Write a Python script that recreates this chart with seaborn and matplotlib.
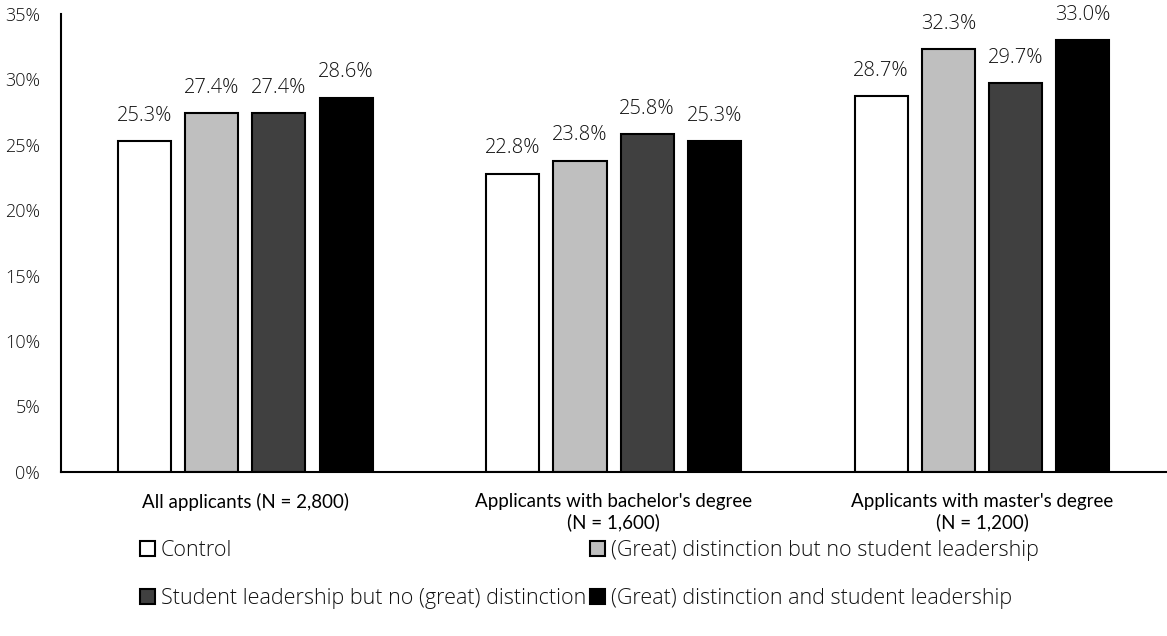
import numpy as np
import pandas as pd
import matplotlib
matplotlib.use('Agg')
import matplotlib.pyplot as plt
import seaborn as sns
from matplotlib.patches import Patch

groups = ['All applicants (N = 2,800)',
          "Applicants with bachelor's degree\n(N = 1,600)",
          "Applicants with master's degree\n(N = 1,200)"]
series = ['Control',
          '(Great) distinction but no student leadership',
          'Student leadership but no (great) distinction',
          '(Great) distinction and student leadership']
control = [25.3, 22.8, 28.7]
distinction_only = [27.4, 23.8, 32.3]
leadership_only = [27.4, 25.8, 29.7]
both = [28.6, 25.3, 33.0]
colors = ['#ffffff', '#bfbfbf', '#404040', '#000000']

df = pd.DataFrame({
    'group': groups * 4,
    'condition': [s for s in series for _ in groups],
    'value': control + distinction_only + leadership_only + both,
})

sns.set_style('white')
plt.rcParams['font.family'] = ['Open Sans', 'DejaVu Sans']
plt.rcParams['font.weight'] = 'light'

fig = plt.figure(figsize=(11.67, 6.36), dpi=100)
ax = fig.add_axes([0.0523, 0.258, 0.947, 0.72])

sns.barplot(data=df, x='group', y='value', hue='condition',
            hue_order=series, palette=colors, width=0.73, gap=0.21,
            edgecolor='black', linewidth=1.5, legend=False, ax=ax)

# value labels above bars
for cont in ax.containers:
    ax.bar_label(cont, labels=[f'{v:.1f}%' for v in cont.datavalues],
                 padding=11, fontsize=14.5, color='#111111')

ax.set_ylim(0, 35)
ax.set_xlim(-0.5, 2.5)
ax.set_yticks(np.arange(0, 36, 5))
ax.set_yticklabels([f'{t}%' for t in range(0, 36, 5)], fontsize=13, color='#111111')
ax.tick_params(axis='y', length=0, pad=15)
ax.tick_params(axis='x', length=0, pad=15)
for lab in ax.get_xticklabels():
    lab.set_fontfamily(['Lato', 'DejaVu Sans'])
    lab.set_fontweight('normal')
    lab.set_fontsize(13.5)
    lab.set_linespacing(1.25)
    lab.set_color('black')
ax.set_xlabel('')
ax.set_ylabel('')
sns.despine(ax=ax)
for sp in ['left', 'bottom']:
    ax.spines[sp].set_color('black')
    ax.spines[sp].set_linewidth(1.5)

# legend filled row-wise: two rows, two columns
handles = [Patch(facecolor=c, edgecolor='black', linewidth=1.5) for c in colors]
order = [0, 2, 1, 3]
fig.legend([handles[i] for i in order], [series[i] for i in order],
           loc='center', bbox_to_anchor=(0.505, 0.096), ncol=2, frameon=False,
           fontsize=15.5, handlelength=0.7, handleheight=0.7, handletextpad=0.25,
           columnspacing=0.2, labelspacing=1.25, labelcolor='#111111')

fig.savefig('out.png', dpi=100)
